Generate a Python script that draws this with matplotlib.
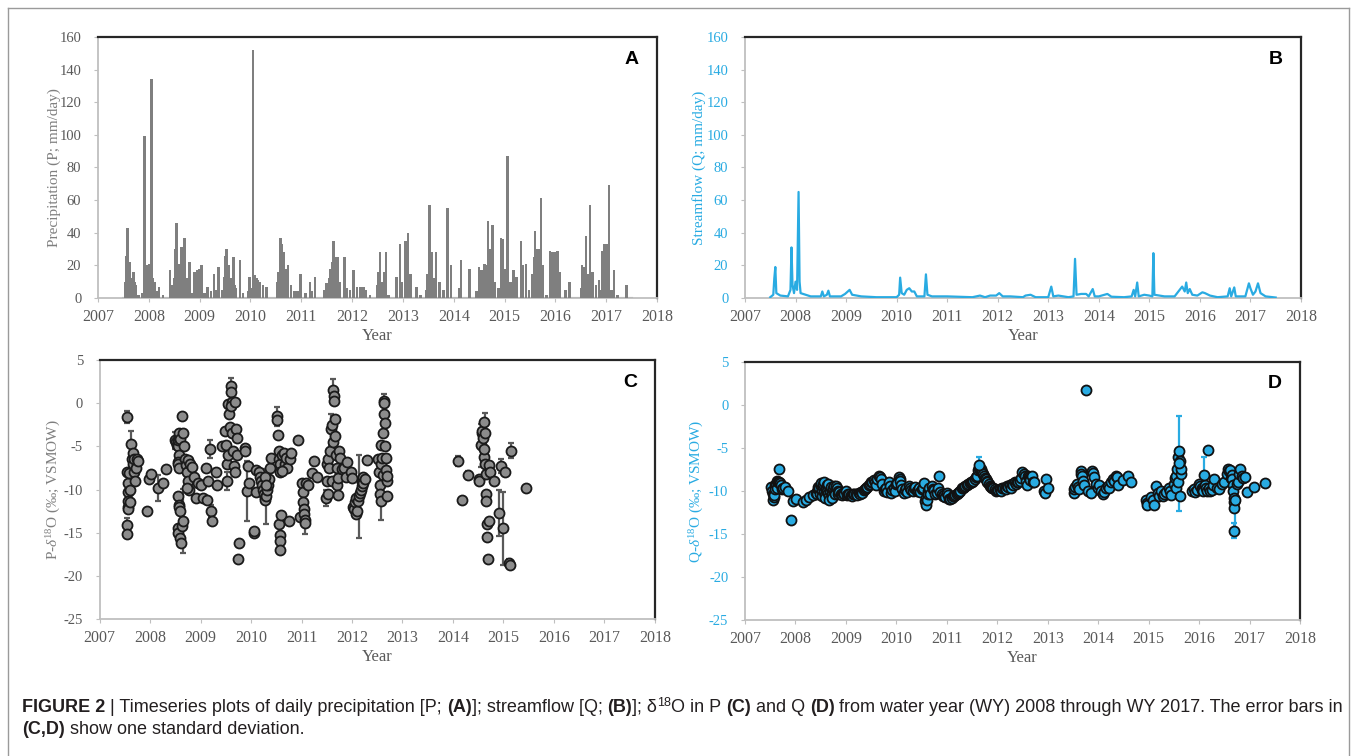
import matplotlib
matplotlib.use('Agg')
import matplotlib.pyplot as plt
import numpy as np
from matplotlib import font_manager as fm
from matplotlib.lines import Line2D

plt.rcParams['font.family'] = ['Liberation Serif', 'DejaVu Serif']
plt.rcParams['mathtext.fontset'] = 'custom'
plt.rcParams['mathtext.rm'] = 'Liberation Serif'
plt.rcParams['mathtext.it'] = 'Liberation Serif:italic'
plt.rcParams['mathtext.bf'] = 'Liberation Serif:bold'
plt.rcParams['axes.unicode_minus'] = False

GRAY = '#7f7f7f'
BLUE = '#29abe2'
TICK_GRAY = '#595959'
AXIS_GRAY = '#bfbfbf'

# ---------------- data ----------------
# (A) daily precipitation, mm/day
p_year = [2007.53, 2007.55, 2007.57, 2007.58, 2007.59, 2007.61, 2007.63, 2007.65, 2007.66, 2007.68,
          2007.70, 2007.72, 2007.75, 2007.80, 2007.88, 2007.92, 2007.95, 2008.00, 2008.02, 2008.05,
          2008.08, 2008.12, 2008.16, 2008.20, 2008.28, 2008.42, 2008.47, 2008.50, 2008.52, 2008.55,
          2008.58, 2008.60, 2008.63, 2008.67, 2008.70, 2008.74, 2008.80, 2008.85, 2008.90, 2008.93,
          2008.96, 2009.00, 2009.04, 2009.10, 2009.15, 2009.22, 2009.28, 2009.33, 2009.37, 2009.45,
          2009.48, 2009.50, 2009.53, 2009.57, 2009.60, 2009.62, 2009.67, 2009.70, 2009.72, 2009.79,
          2009.85, 2009.95, 2009.98, 2010.02, 2010.05, 2010.08, 2010.12, 2010.15, 2010.18, 2010.25,
          2010.32, 2010.52, 2010.55, 2010.59, 2010.62, 2010.66, 2010.70, 2010.74, 2010.80, 2010.87,
          2010.93, 2010.98, 2011.08, 2011.17, 2011.21, 2011.27, 2011.45, 2011.50, 2011.55, 2011.58,
          2011.60, 2011.63, 2011.67, 2011.71, 2011.76, 2011.85, 2011.90, 2011.96, 2012.03, 2012.10,
          2012.16, 2012.22, 2012.27, 2012.35, 2012.50, 2012.52, 2012.55, 2012.60, 2012.63, 2012.67,
          2012.72, 2012.87, 2012.94, 2012.98, 2013.05, 2013.10, 2013.15, 2013.27, 2013.35, 2013.46,
          2013.48, 2013.52, 2013.56, 2013.60, 2013.65, 2013.72, 2013.80, 2013.88, 2013.95, 2014.10,
          2014.14, 2014.31, 2014.45, 2014.50, 2014.53, 2014.55, 2014.60, 2014.63, 2014.67, 2014.72,
          2014.76, 2014.80, 2014.88, 2014.93, 2014.97, 2015.00, 2015.06, 2015.12, 2015.18, 2015.23,
          2015.32, 2015.36, 2015.42, 2015.48, 2015.55, 2015.58, 2015.60, 2015.64, 2015.68, 2015.72,
          2015.76, 2015.82, 2015.89, 2015.94, 2015.99, 2016.04, 2016.08, 2016.20, 2016.28, 2016.50,
          2016.52, 2016.57, 2016.60, 2016.64, 2016.68, 2016.73, 2016.80, 2016.86, 2016.90, 2016.93,
          2016.97, 2017.02, 2017.05, 2017.10, 2017.15, 2017.22, 2017.40]
p_val = [10, 26, 33, 43, 30, 22, 22, 12, 9, 12,
         16, 10, 8, 2, 3, 99, 20, 21, 11, 134,
         12, 10, 4, 7, 2, 17, 8, 12, 30, 46,
         20, 21, 31, 31, 37, 12, 22, 3, 16, 6,
         17, 18, 20, 3, 7, 4, 15, 5, 19, 5,
         13, 26, 30, 20, 10, 12, 25, 8, 6, 23,
         3, 4, 13, 6, 152, 14, 12, 11, 10, 8,
         7, 10, 16, 37, 33, 28, 18, 20, 8, 4,
         4, 15, 3, 10, 4, 13, 5, 9, 12, 18,
         22, 35, 25, 25, 10, 25, 6, 5, 17, 7,
         7, 7, 5, 2, 8, 16, 28, 10, 16, 28,
         2, 13, 33, 10, 35, 40, 15, 7, 2, 5,
         15, 57, 28, 12, 28, 10, 5, 55, 20, 6,
         23, 18, 4, 19, 15, 17, 21, 20, 47, 30,
         45, 10, 6, 37, 36, 18, 87, 10, 17, 13,
         35, 20, 21, 5, 15, 25, 41, 30, 30, 61,
         20, 2, 29, 28, 28, 29, 16, 5, 10, 6,
         20, 19, 38, 15, 57, 16, 8, 11, 5, 29,
         33, 33, 69, 5, 17, 2, 8]
p_record = [2007.5, 2017.5]

# (B) streamflow, mm/day
q_year = [2007.50, 2007.56, 2007.58, 2007.60, 2007.62, 2007.70, 2007.85, 2007.90, 2007.92, 2007.94,
          2007.97, 2008.00, 2008.03, 2008.06, 2008.08, 2008.10, 2008.20, 2008.30, 2008.50, 2008.53,
          2008.56, 2008.62, 2008.65, 2008.68, 2008.90, 2008.98, 2009.07, 2009.12, 2009.30, 2009.60,
          2010.00, 2010.05, 2010.07, 2010.10, 2010.15, 2010.20, 2010.25, 2010.30, 2010.35, 2010.40,
          2010.55, 2010.58, 2010.61, 2010.70, 2011.00, 2011.50, 2011.65, 2011.75, 2011.85, 2011.97,
          2012.03, 2012.10, 2012.25, 2012.50, 2012.55, 2012.65, 2012.75, 2013.00, 2013.06, 2013.10,
          2013.20, 2013.40, 2013.50, 2013.53, 2013.56, 2013.65, 2013.75, 2013.80, 2013.88, 2013.92,
          2014.00, 2014.17, 2014.25, 2014.50, 2014.65, 2014.69, 2014.72, 2014.76, 2014.79, 2014.90,
          2015.00, 2015.06, 2015.08, 2015.10, 2015.30, 2015.50, 2015.60, 2015.65, 2015.70, 2015.73,
          2015.76, 2015.80, 2015.85, 2015.95, 2016.00, 2016.05, 2016.10, 2016.20, 2016.35, 2016.55,
          2016.59, 2016.62, 2016.68, 2016.71, 2016.90, 2016.97, 2017.00, 2017.05, 2017.10, 2017.15,
          2017.20, 2017.30, 2017.50]
q_val = [0.5, 2, 12, 19, 3, 1.5, 1, 5, 31, 8,
         3, 10, 5, 65, 10, 3, 2, 1, 1, 4,
         1, 2, 4.5, 1, 1, 2.5, 5, 2, 1, 0.5,
         0.5, 2, 12.5, 3, 2, 5, 6, 4, 4, 1,
         1, 14.5, 2, 1, 1, 0.5, 1.5, 0.5, 1.5, 1.5,
         3, 1, 1, 0.5, 1.5, 2, 0.5, 0.5, 7, 1,
         1.5, 0.5, 1, 24, 2, 2.5, 2.5, 1, 5.5, 1,
         1, 2.5, 0.8, 0.5, 1, 5, 1, 9.5, 1, 2,
         1.5, 1, 27.5, 2, 1, 1, 5, 7, 4, 9.5,
         3, 5.5, 2, 1.5, 2.5, 3.5, 3, 1.5, 0.5, 1,
         6, 1, 6.5, 1, 1, 9, 6, 2, 4, 9,
         3, 1, 0.3]

# (C) delta-18O in precipitation, permil VSMOW, with one standard deviation
pd_year = [2007.55, 2007.55, 2007.56, 2007.56, 2007.57, 2007.57, 2007.56, 2007.55, 2007.55, 2007.58,
           2007.60, 2007.60, 2007.62, 2007.63, 2007.65, 2007.66, 2007.67, 2007.68, 2007.70, 2007.72,
           2007.74, 2007.76, 2007.93, 2007.97, 2008.02, 2008.15, 2008.25, 2008.32,
           2008.50, 2008.52, 2008.53, 2008.55, 2008.56, 2008.57, 2008.58, 2008.60, 2008.58, 2008.55,
           2008.56, 2008.57, 2008.55, 2008.57, 2008.58, 2008.59, 2008.56, 2008.55, 2008.60, 2008.62,
           2008.63, 2008.65, 2008.64, 2008.66, 2008.67, 2008.68, 2008.70, 2008.72, 2008.74, 2008.76,
           2008.73, 2008.75, 2008.78,
           2008.82, 2008.87, 2008.90, 2008.95, 2009.00, 2009.05, 2009.10, 2009.12, 2009.15, 2009.18,
           2009.20, 2009.22, 2009.30, 2009.32,
           2009.43, 2009.48, 2009.50, 2009.52, 2009.52, 2009.55, 2009.55, 2009.57, 2009.58, 2009.60,
           2009.61, 2009.63, 2009.60, 2009.62, 2009.65, 2009.67, 2009.68, 2009.70, 2009.72, 2009.73,
           2009.69, 2009.76, 2009.74,
           2009.88, 2009.88, 2009.91, 2009.93, 2009.95, 2010.05, 2010.06, 2010.10, 2010.10,
           2010.15, 2010.18, 2010.20, 2010.22, 2010.24, 2010.25, 2010.27, 2010.28, 2010.30, 2010.32,
           2010.33, 2010.35, 2010.37, 2010.40, 2010.27, 2010.30,
           2010.52, 2010.52, 2010.53, 2010.55, 2010.55, 2010.57, 2010.58, 2010.56, 2010.57, 2010.57,
           2010.58, 2010.60, 2010.62, 2010.65, 2010.68, 2010.70, 2010.72, 2010.75, 2010.77, 2010.80,
           2010.62,
           2010.92, 2010.96, 2011.00, 2011.02, 2011.03, 2011.04, 2011.05, 2011.06, 2011.07, 2011.08,
           2011.12, 2011.20, 2011.25, 2011.30,
           2011.48, 2011.50, 2011.50, 2011.52, 2011.53, 2011.55, 2011.57, 2011.58, 2011.60, 2011.60,
           2011.62, 2011.63, 2011.64, 2011.65, 2011.66, 2011.67, 2011.68, 2011.70, 2011.70, 2011.72,
           2011.73, 2011.75, 2011.77, 2011.80, 2011.85, 2011.88, 2011.90,
           2011.97, 2012.00, 2012.02, 2012.04, 2012.06, 2012.07, 2012.08, 2012.10, 2012.12, 2012.13,
           2012.15, 2012.17, 2012.19, 2012.20, 2012.22, 2012.22, 2012.25, 2012.30,
           2012.52, 2012.53, 2012.55, 2012.55, 2012.57, 2012.58, 2012.58, 2012.60, 2012.62, 2012.62,
           2012.63, 2012.63, 2012.64, 2012.65, 2012.66, 2012.67, 2012.68, 2012.69, 2012.70, 2012.70,
           2014.10, 2014.17, 2014.30, 2014.52, 2014.52, 2014.55, 2014.57, 2014.58, 2014.60, 2014.61,
           2014.61, 2014.62, 2014.63, 2014.64, 2014.65, 2014.66, 2014.66, 2014.67, 2014.68, 2014.70,
           2014.71, 2014.72, 2014.73, 2014.82, 2014.95, 2014.91, 2015.03, 2015.00, 2015.12, 2015.13,
           2015.16, 2015.44]
pd_val = [-1.6, -8.0, -9.2, -10.3, -11.3, -12.0, -12.3, -14.1, -15.2, -8.1,
          -10.0, -11.5, -4.7, -6.5, -5.8, -7.0, -6.5, -8.0, -9.0, -7.5,
          -6.5, -6.7, -12.5, -8.8, -8.2, -9.8, -9.2, -7.6,
          -4.3, -4.5, -4.8, -5.0, -4.3, -4.0, -3.5, -4.2, -6.0, -6.8,
          -7.0, -7.5, -10.7, -11.8, -12.0, -12.5, -14.5, -15.0, -15.6, -16.2,
          -14.2, -13.6, -1.5, -3.5, -5.0, -6.5, -7.2, -8.0, -9.0, -10.0,
          -9.8, -6.6, -7.0,
          -7.4, -8.5, -11.0, -9.3, -9.5, -11.0, -7.5, -11.2, -9.0, -5.3,
          -12.5, -13.6, -8.0, -9.5,
          -5.0, -3.2, -4.8, -7.0, -9.0, -6.0, -0.1, -1.3, -2.8, 2.0,
          1.3, 0.1, -0.3, -3.5, -5.5, -7.3, -8.0, -3.0, -4.0, -6.0,
          0.1, -16.2, -18.0,
          -5.2, -5.5, -10.2, -7.3, -9.2, -15.0, -14.8, -7.7, -10.3,
          -8.0, -8.5, -9.0, -9.5, -10.0, -10.5, -11.0, -11.2, -10.8, -10.0,
          -9.5, -8.8, -7.5, -6.4, -8.5, -9.5,
          -1.5, -2.0, -3.7, -5.5, -6.5, -7.0, -8.0, -14.0, -15.3, -16.0,
          -17.0, -13.0, -6.0, -5.8, -7.0, -6.3, -7.5, -13.7, -6.5, -5.8,
          -7.8,
          -4.3, -13.2, -9.3, -10.3, -11.4, -12.2, -12.8, -13.5, -13.9, -9.3,
          -9.5, -8.1, -6.7, -8.6,
          -11.0, -7.0, -9.0, -10.5, -6.5, -7.5, -5.5, -3.0, -2.5, -9.0,
          -4.5, 1.5, 0.8, 0.2, -1.8, -3.8, -6.0, -7.5, -9.5, -10.6,
          -8.7, -5.5, -6.3, -7.6, -7.5, -8.5, -6.8,
          -8.0, -8.7, -12.0, -12.3, -11.5, -12.8, -11.0, -12.5, -11.3, -10.8,
          -10.4, -10.0, -9.6, -9.1, -8.5, -9.3, -8.8, -6.6,
          -6.5, -8.0, -9.5, -10.5, -4.8, -7.0, -11.3, -6.3, -3.5, -8.3,
          0.3, 0.0, -1.3, -2.3, -5.0, -6.3, -7.7, -9.0, -10.8, -8.4,
          -6.7, -11.2, -8.3, -8.8, -9.0, -4.9, -3.5, -3.2, -4.0, -2.2,
          -6.2, -5.3, -7.0, -3.5, -8.2, -10.5, -11.3, -14.0, -15.5, -18.0,
          -13.7, -7.2, -8.0, -9.0, -7.3, -12.7, -8.0, -14.5, -18.5, -18.7,
          -5.5, -9.8]
pd_err = [0.7, 0, 0, 0, 0, 0, 0, 0.8, 0, 0,
          0, 0, 1.5, 0, 0, 0, 0, 0, 0, 0,
          0, 0, 0, 0, 0, 1.5, 0, 0,
          1.0, 0, 0, 0, 0, 0, 0, 0, 0, 0,
          0, 0, 0, 0, 0, 0, 0, 0, 0, 0,
          0, 3.7, 0, 0, 0, 0, 0, 0, 0, 0,
          0, 0, 0,
          0, 0, 0, 0, 0, 0, 0, 0, 0, 1.0,
          0.7, 0, 0, 0,
          0, 0, 0, 0, 1.0, 0, 0, 0, 0, 0.9,
          0, 0, 0, 0, 0, 0, 0, 0, 0, 0,
          0, 0, 0,
          0, 0, 3.5, 0, 0, 0, 0, 0, 0,
          0, 0, 0, 0, 0, 0, 0, 0, 3.2, 0,
          0, 0, 0, 0, 0, 0,
          1.1, 0, 0, 0, 0, 0, 0, 0, 0, 0,
          0, 0, 0, 0, 0, 0, 0, 0, 0, 0,
          0,
          0, 0, 0, 0, 0, 0, 0, 0, 1.2, 0,
          0, 0, 0, 0,
          0.9, 0, 0, 0, 0, 0, 0, 1.8, 0, 0,
          0, 1.3, 0, 0, 0, 0, 0, 0, 0, 0,
          0, 0, 0, 0, 0, 0, 0,
          0, 0, 0, 0, 0, 0, 0, 0, 0, 4.8,
          0, 0, 0, 0, 0, 0, 0, 0,
          0, 0, 0, 0, 0, 0, 2.2, 0, 0, 0,
          0.8, 0, 0, 0, 0, 0, 0, 0, 0, 0,
          0.6, 0, 0.5, 0, 0, 2.5, 0, 0, 0, 0,
          0, 0, 0, 2.4, 0, 0, 0, 0, 0, 0,
          0, 0, 0, 0, 0.8, 2.7, 0, 4.2, 0.4, 0,
          0.9, 0]

# (D) delta-18O in streamflow, permil VSMOW
qd_year = [2007.52, 2007.53, 2007.55, 2007.56, 2007.57, 2007.58, 2007.59, 2007.60, 2007.62, 2007.63,
           2007.64, 2007.66, 2007.67, 2007.68, 2007.70, 2007.72, 2007.74, 2007.76, 2007.80, 2007.85,
           2007.92, 2007.95, 2008.02, 2008.15, 2008.20, 2008.27, 2008.35, 2008.40,
           2008.42, 2008.44, 2008.45, 2008.47, 2008.49, 2008.50, 2008.51, 2008.52, 2008.53, 2008.54,
           2008.55, 2008.56, 2008.57, 2008.58, 2008.59, 2008.60, 2008.61, 2008.62, 2008.63, 2008.64,
           2008.65, 2008.66, 2008.67, 2008.69, 2008.70, 2008.71, 2008.72, 2008.73, 2008.74, 2008.75,
           2008.77, 2008.78, 2008.79, 2008.80, 2008.82, 2008.84, 2008.85, 2008.87, 2008.90, 2008.92,
           2008.95, 2008.97, 2009.00, 2009.02, 2009.05, 2009.07, 2009.10, 2009.12, 2009.15, 2009.17,
           2009.20, 2009.22, 2009.25, 2009.27, 2009.30, 2009.32, 2009.35, 2009.37, 2009.40, 2009.42,
           2009.45, 2009.47, 2009.50, 2009.52, 2009.55, 2009.57, 2009.60, 2009.62, 2009.65, 2009.67,
           2009.70, 2009.72, 2009.75, 2009.77, 2009.80, 2009.82, 2009.85, 2009.87, 2009.90, 2009.92,
           2009.95, 2009.97, 2010.00, 2010.02, 2010.05, 2010.07, 2010.08, 2010.10, 2010.12, 2010.15,
           2010.17, 2010.20, 2010.22, 2010.25, 2010.27, 2010.30, 2010.32, 2010.35, 2010.37, 2010.40,
           2010.42, 2010.45, 2010.47, 2010.50, 2010.52, 2010.55, 2010.57, 2010.58, 2010.59, 2010.60,
           2010.62, 2010.63, 2010.65, 2010.67, 2010.70, 2010.72, 2010.75, 2010.77, 2010.80, 2010.82,
           2010.85, 2010.87, 2010.90, 2010.92, 2010.95, 2010.97, 2011.00, 2011.02, 2011.05, 2011.07,
           2011.10, 2011.12, 2011.15, 2011.17, 2011.20, 2011.22, 2011.25, 2011.27, 2011.30, 2011.32,
           2011.35, 2011.37, 2011.40, 2011.42, 2011.45, 2011.47, 2011.50, 2011.52, 2011.55, 2011.57,
           2011.60, 2011.61, 2011.64, 2011.66, 2011.68, 2011.70, 2011.72, 2011.73, 2011.75, 2011.77,
           2011.79, 2011.80, 2011.83, 2011.85, 2011.87, 2011.90, 2011.92, 2011.95, 2011.97, 2012.00,
           2012.02, 2012.05, 2012.07, 2012.10, 2012.12, 2012.15, 2012.17, 2012.20, 2012.22, 2012.25,
           2012.27, 2012.30, 2012.32, 2012.35, 2012.37, 2012.40, 2012.42, 2012.45, 2012.48, 2012.50,
           2012.52, 2012.55, 2012.56, 2012.58, 2012.60, 2012.62, 2012.64, 2012.65, 2012.68, 2012.70,
           2012.72, 2012.92, 2012.95, 2012.97, 2013.00,
           2013.52, 2013.53, 2013.55, 2013.58, 2013.60, 2013.62, 2013.65, 2013.66, 2013.67, 2013.69,
           2013.70, 2013.72, 2013.76, 2013.80, 2013.85, 2013.88, 2013.90, 2013.92, 2013.95, 2014.00,
           2014.02, 2014.05, 2014.10, 2014.12, 2014.15, 2014.20, 2014.22, 2014.25, 2014.30, 2014.32,
           2014.35, 2014.38, 2014.40, 2014.50, 2014.60, 2014.65,
           2014.95, 2014.96, 2014.97, 2015.05, 2015.08, 2015.10, 2015.15, 2015.18, 2015.20, 2015.25,
           2015.28, 2015.30, 2015.35, 2015.40, 2015.42, 2015.45, 2015.50, 2015.52, 2015.54, 2015.55,
           2015.57, 2015.58, 2015.59, 2015.60, 2015.62, 2015.63, 2015.64, 2015.65,
           2015.85, 2015.90, 2015.92, 2015.95, 2016.00, 2016.02, 2016.05, 2016.06, 2016.08, 2016.12,
           2016.14, 2016.15, 2016.18, 2016.20, 2016.22, 2016.25, 2016.28, 2016.30, 2016.35, 2016.40,
           2016.45, 2016.50, 2016.55, 2016.58, 2016.60, 2016.62, 2016.63, 2016.65, 2016.66, 2016.67,
           2016.68, 2016.69, 2016.70, 2016.70, 2016.75, 2016.78, 2016.80, 2016.82, 2016.85, 2016.87,
           2016.90, 2016.95, 2017.08, 2017.30]
qd_val = [-9.5, -10.0, -10.3, -11.0, -10.7, -10.5, -9.3, -9.8, -9.2, -9.6,
          -8.8, -8.9, -7.4, -9.0, -9.1, -9.3, -9.8, -9.6, -9.5, -10.0,
          -13.4, -11.2, -10.9, -11.3, -11.0, -10.7, -10.5, -10.2,
          -10.3, -9.8, -9.5, -9.6, -10.4, -9.4, -9.1, -10.0, -10.6, -9.5,
          -9.2, -10.1, -9.0, -10.5, -10.8, -9.8, -9.6, -9.3, -10.0, -9.2,
          -10.2, -10.6, -11.1, -10.0, -9.7, -9.5, -10.3, -10.8, -9.9, -9.6,
          -9.4, -10.2, -10.4, -9.4, -9.7, -10.3, -10.0, -10.1, -10.4, -10.5,
          -10.2, -10.3, -10.0, -10.5, -10.4, -10.3, -10.5, -10.6, -10.3, -10.4,
          -10.4, -10.5, -10.2, -10.3, -10.1, -10.2, -9.9, -9.8, -9.6, -9.5,
          -9.3, -9.2, -9.0, -8.9, -8.7, -9.0, -9.3, -8.6, -8.3, -8.4,
          -8.6, -9.2, -10.0, -9.8, -9.6, -10.1, -9.0, -9.4, -10.2, -9.9,
          -9.6, -10.0, -9.2, -9.1, -8.4, -8.6, -8.8, -9.3, -9.8, -10.2,
          -9.9, -9.7, -10.1, -9.4, -9.6, -9.9, -10.0, -9.7, -9.5, -10.0,
          -9.9, -9.6, -10.1, -9.8, -9.6, -9.1, -11.2, -11.6, -10.8, -11.0,
          -10.0, -10.3, -9.7, -10.3, -9.4, -9.8, -9.9, -10.4, -10.2, -9.7,
          -8.2, -10.1, -10.4, -10.6, -10.5, -10.7, -10.2, -10.5, -10.9, -10.9,
          -10.8, -10.6, -10.6, -10.5, -10.4, -10.2, -10.1, -10.0, -9.7, -9.6,
          -9.5, -9.4, -9.3, -9.2, -9.1, -9.0, -8.9, -8.8, -8.6, -8.4,
          -8.2, -7.6, -7.3, -7.6, -7.5, -7.8, -8.0, -8.3, -8.5, -8.6,
          -8.8, -9.0, -9.2, -9.4, -9.5, -9.6, -9.7, -9.8, -10.0, -9.9,
          -9.9, -9.8, -10.0, -9.7, -9.7, -9.6, -9.8, -9.4, -9.5, -9.3,
          -9.6, -9.2, -9.3, -9.0, -9.2, -9.0, -9.0, -8.8, -8.5, -7.8,
          -8.0, -8.2, -8.8, -9.3, -8.2, -8.4, -8.5, -8.7, -8.3, -8.9,
          -9.0, -10.0, -10.2, -8.6, -9.7,
          -10.2, -9.8, -9.5, -9.2, -9.5, -9.8, -7.7, -8.0, -8.3, -9.0,
          -8.8, -9.3, 1.7, -10.0, -10.2, -7.7, -7.9, -8.4, -9.2, -9.6,
          -9.3, -10.0, -10.3, -10.1, -9.7, -9.4, -9.6, -9.0, -8.6, -8.8,
          -8.2, -8.4, -9.3, -8.7, -8.3, -8.9,
          -11.0, -11.4, -11.6, -10.7, -11.0, -11.6, -9.4, -10.2, -10.6, -10.0,
          -10.6, -10.3, -10.1, -9.6, -10.0, -10.5, -9.2, -8.5, -9.6, -8.2,
          -7.5, -9.0, -6.0, -5.3, -10.6, -6.5, -8.0, -7.5,
          -10.0, -9.8, -10.1, -9.9, -9.2, -9.4, -9.6, -9.9, -10.0, -9.3,
          -9.6, -10.0, -5.2, -9.7, -10.0, -9.9, -9.3, -8.6, -9.6, -9.8,
          -9.2, -9.0, -8.0, -7.4, -7.7, -7.6, -8.5, -8.1, -8.6, -9.3,
          -10.0, -10.8, -11.3, -12.0, -9.2, -9.0, -8.0, -7.4, -8.3, -8.5,
          -8.4, -10.1, -9.5, -9.1]

# (D) samples with a visible one-standard-deviation bar
qd_eb_year = [2011.63, 2015.61, 2016.10, 2016.70, 2016.71]
qd_eb_val = [-7.0, -6.8, -8.1, -14.6, -11.0]
qd_eb_sd = [0.9, 5.5, 2.1, 0.9, 3.4]

years = np.arange(2007, 2019)


# ---------------- figure ----------------
fig = plt.figure(figsize=(13.57, 7.56), dpi=100)


def style_axes(ax, tick_color, ylabel, ylabel_color, letter, ylim, yticks, lx):
    ax.set_xlim(2007, 2018)
    ax.set_ylim(*ylim)
    ax.set_xticks(years)
    ax.set_yticks(yticks)
    for s in ('left', 'bottom'):
        ax.spines[s].set_color(AXIS_GRAY)
        ax.spines[s].set_linewidth(1.3)
    for s in ('top', 'right'):
        ax.spines[s].set_color('#262626')
        ax.spines[s].set_linewidth(1.6)
    ax.tick_params(axis='x', direction='out', length=3, color=AXIS_GRAY, pad=5,
                   labelsize=11.5, labelcolor=TICK_GRAY)
    ax.tick_params(axis='y', direction='out', length=3, color=AXIS_GRAY, pad=9,
                   labelsize=10.5, labelcolor=tick_color)
    ax.set_xlabel('Year', fontsize=12, color=TICK_GRAY, labelpad=2)
    ax.set_ylabel(ylabel, fontsize=11, color=ylabel_color)
    ax.yaxis.set_label_coords(lx, 0.5)
    ax.text(0.955, 0.915, letter, transform=ax.transAxes, ha='center', va='center',
            fontsize=14, fontweight='bold', family=['Liberation Sans', 'DejaVu Sans'])


# A
axA = fig.add_axes([0.0722, 0.6058, 0.412, 0.3453])
axA.plot(p_record, [0, 0], color=GRAY, lw=1.5, zorder=2)
axA.bar(p_year, p_val, width=0.05, color=GRAY, zorder=3)
style_axes(axA, TICK_GRAY, 'Precipitation (P; mm/day)', GRAY, 'A', (0, 160),
           np.arange(0, 161, 20), -0.066)

# B
axB = fig.add_axes([0.549, 0.6058, 0.4097, 0.3453])
axB.plot(q_year, q_val, color=BLUE, lw=1.6, zorder=3)
style_axes(axB, BLUE, 'Streamflow (Q; mm/day)', BLUE, 'B', (0, 160),
           np.arange(0, 161, 20), -0.071)

# C
axC = fig.add_axes([0.0735, 0.1812, 0.409, 0.3426])
pe = np.array(pd_err, dtype=float)
m = pe > 0
axC.errorbar(np.array(pd_year)[m], np.array(pd_val)[m], yerr=pe[m], fmt='none',
             ecolor='#595959', elinewidth=1.6, capsize=2.5, capthick=1.6, zorder=2)
axC.plot(pd_year, pd_val, linestyle='none', marker='o', markersize=7.2,
         markerfacecolor='#8c8c8c', markeredgecolor='#1a1a1a', markeredgewidth=1.3, zorder=3)
style_axes(axC, TICK_GRAY, r'P-$\delta^{18}$O (‰; VSMOW)', GRAY, 'C', (-25, 5),
           np.arange(-25, 6, 5), -0.066)

# D
axD = fig.add_axes([0.549, 0.1799, 0.409, 0.3413])
axD.errorbar(qd_eb_year, qd_eb_val, yerr=qd_eb_sd, fmt='none',
             ecolor=BLUE, elinewidth=1.6, capsize=2.5, capthick=1.6, zorder=2)
axD.plot(qd_year + qd_eb_year, qd_val + qd_eb_val, linestyle='none', marker='o', markersize=7.2,
         markerfacecolor=BLUE, markeredgecolor='#111111', markeredgewidth=1.3, zorder=3)
style_axes(axD, BLUE, r'Q-$\delta^{18}$O (‰; VSMOW)', BLUE, 'D', (-25, 5),
           np.arange(-25, 6, 5), -0.071)

# outer frame
W, H = 1357, 756
for xs, ys in [((8, 8), (8, 756)), ((8, 1349), (8, 8)), ((1349, 1349), (8, 756))]:
    fig.add_artist(Line2D([x / W for x in xs], [1 - y / H for y in ys], color='#9a9a9a', lw=1.0))

# caption with mixed bold / superscript runs
try:
    fm.findfont('Liberation Sans Narrow', fallback_to_default=False)
    cap_family = ['Liberation Sans Narrow', 'DejaVu Sans']
except ValueError:
    cap_family = ['Liberation Sans', 'DejaVu Sans']

line1 = [('FIGURE 2', 'b'), (' | Timeseries plots of daily precipitation [P; ', 'n'), ('(A)', 'b'),
         ('];streamflow [Q; ', 'n'), ('(B)', 'b'), ('];δ', 'n'), ('18', 's'), ('O in P ', 'n'),
         ('(C)', 'b'), (' and Q ', 'n'), ('(D)', 'b'),
         (' from water year (WY) 2008 through WY 2017. The error bars in', 'n')]
line1 = [(t.replace('];', ']; '), k) for t, k in line1]
line2 = [('(C,D)', 'b'), (' show one standard deviation.', 'n')]

renderer = fig.canvas.get_renderer()


def run_props(kind, size):
    props = dict(family=cap_family, color='#231f20', va='baseline', ha='left')
    props['fontsize'] = size * 0.7 if kind == 's' else size
    props['fontweight'] = 'bold' if kind == 'b' else 'normal'
    return props


def run_width(txt, props):
    t1 = fig.text(0, 0, 'I' + txt + 'I', **props)
    t2 = fig.text(0, 0, 'II', **props)
    w = t1.get_window_extent(renderer).width - t2.get_window_extent(renderer).width
    t1.remove()
    t2.remove()
    return w


def line_width(runs, size):
    return sum(run_width(t, run_props(k, size)) for t, k in runs)


base = 12.0
size = base * (1342 - 22) / line_width(line1, base)


def draw_line(runs, x_px, y_px, size):
    x = x_px
    for txt, kind in runs:
        props = run_props(kind, size)
        dy = size * 0.45 if kind == 's' else 0
        fig.text(x / W, 1 - (y_px - dy) / H, txt, **props)
        x += run_width(txt, props)


draw_line(line1, 22, 712, size)
draw_line(line2, 22, 734, size)

fig.savefig('out.png', dpi=100)
